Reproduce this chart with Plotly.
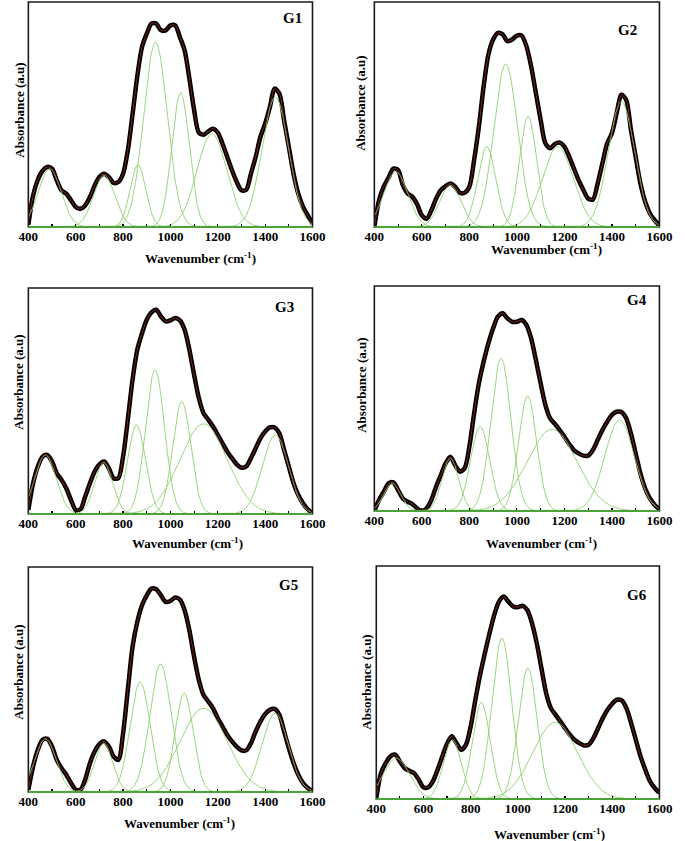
import numpy as np
import plotly.graph_objects as go

W, H = 685, 841

# ---------------- data ----------------
wavenumber = list(range(400, 1601, 20))
x_ticks = [400, 600, 800, 1000, 1200, 1400, 1600]
panel_names = ["G1", "G2", "G3", "G4", "G5", "G6"]

g1_absorbance = [0.01, 0.14, 0.21, 0.25, 0.267, 0.259, 0.207, 0.163, 0.148, 0.119, 0.089,
                 0.081, 0.096, 0.133, 0.185, 0.222, 0.237, 0.222, 0.196, 0.200, 0.237,
                 0.34, 0.50, 0.67, 0.80, 0.859, 0.904, 0.904, 0.874, 0.874, 0.896,
                 0.896, 0.844, 0.785, 0.66, 0.52, 0.42, 0.41, 0.425, 0.437, 0.42,
                 0.37, 0.311, 0.252, 0.20, 0.163, 0.165, 0.237, 0.311, 0.40, 0.459,
                 0.533, 0.615, 0.593, 0.474, 0.356, 0.237, 0.148, 0.089, 0.052, 0.015]
g2_absorbance = [0.0, 0.12, 0.18, 0.22, 0.26, 0.253, 0.186, 0.149, 0.134, 0.101, 0.052,
                 0.037, 0.074, 0.126, 0.164, 0.182, 0.193, 0.179, 0.152, 0.152, 0.179,
                 0.298, 0.446, 0.625, 0.766, 0.833, 0.863, 0.856, 0.826, 0.833, 0.851,
                 0.851, 0.804, 0.714, 0.595, 0.476, 0.372, 0.35, 0.369, 0.375, 0.357,
                 0.313, 0.26, 0.208, 0.164, 0.126, 0.122, 0.193, 0.283, 0.372, 0.417,
                 0.506, 0.588, 0.565, 0.432, 0.312, 0.193, 0.112, 0.06, 0.03, 0.007]
g3_absorbance = [0.018, 0.136, 0.21, 0.254, 0.261, 0.232, 0.18, 0.151, 0.114, 0.062, 0.018,
                 0.021, 0.077, 0.136, 0.188, 0.22, 0.232, 0.202, 0.158, 0.158, 0.254,
                 0.417, 0.594, 0.727, 0.80, 0.86, 0.892, 0.904, 0.874, 0.852, 0.857,
                 0.867, 0.857, 0.815, 0.727, 0.616, 0.513, 0.446, 0.417, 0.387, 0.35,
                 0.313, 0.276, 0.247, 0.22, 0.205, 0.21, 0.247, 0.291, 0.335, 0.365,
                 0.383, 0.383, 0.357, 0.284, 0.21, 0.136, 0.084, 0.047, 0.021, 0.003]
g4_absorbance = [0.0, 0.05, 0.086, 0.123, 0.127, 0.093, 0.056, 0.041, 0.031, 0.012, 0.0,
                 0.012, 0.049, 0.108, 0.16, 0.212, 0.241, 0.204, 0.175, 0.19, 0.286,
                 0.434, 0.567, 0.664, 0.745, 0.812, 0.864, 0.879, 0.856, 0.841, 0.841,
                 0.849, 0.827, 0.767, 0.671, 0.567, 0.471, 0.412, 0.387, 0.36, 0.33,
                 0.298, 0.271, 0.256, 0.246, 0.246, 0.271, 0.316, 0.36, 0.397, 0.427,
                 0.441, 0.44, 0.412, 0.345, 0.256, 0.167, 0.10, 0.056, 0.027, 0.007]
g5_absorbance = [0.01, 0.114, 0.188, 0.232, 0.236, 0.202, 0.143, 0.106, 0.077, 0.04, 0.01,
                 0.01, 0.055, 0.128, 0.18, 0.213, 0.225, 0.202, 0.158, 0.143, 0.261,
                 0.453, 0.645, 0.756, 0.83, 0.874, 0.904, 0.901, 0.874, 0.845, 0.849,
                 0.864, 0.855, 0.808, 0.719, 0.601, 0.498, 0.431, 0.402, 0.372, 0.328,
                 0.291, 0.254, 0.225, 0.202, 0.185, 0.185, 0.217, 0.269, 0.313, 0.346,
                 0.365, 0.369, 0.343, 0.269, 0.195, 0.129, 0.077, 0.04, 0.018, 0.003]
g6_absorbance = [0.004, 0.111, 0.154, 0.183, 0.19, 0.161, 0.133, 0.121, 0.111, 0.083, 0.05,
                 0.05, 0.076, 0.126, 0.183, 0.237, 0.269, 0.24, 0.211, 0.233, 0.311,
                 0.426, 0.533, 0.626, 0.711, 0.79, 0.847, 0.869, 0.847, 0.826, 0.823,
                 0.829, 0.811, 0.754, 0.669, 0.561, 0.454, 0.39, 0.361, 0.333, 0.304,
                 0.276, 0.254, 0.24, 0.23, 0.233, 0.261, 0.304, 0.347, 0.383, 0.409,
                 0.426, 0.423, 0.39, 0.326, 0.254, 0.183, 0.126, 0.076, 0.047, 0.026]

# Gaussian component parameters (band centre, height, sigma)
g1_centers = [490, 720, 863, 937, 1043, 1175, 1443]
g1_heights = [0.259, 0.23, 0.277, 0.822, 0.596, 0.415, 0.578]
g1_sigmas = [48, 45, 33, 50, 37, 63, 56]

g2_centers = [490, 720, 873, 953, 1047, 1172, 1440]
g2_heights = [0.246, 0.186, 0.357, 0.725, 0.491, 0.357, 0.558]
g2_sigmas = [50, 45, 38, 50, 36, 65, 55]

g3_centers = [472, 718, 857, 935, 1048, 1140, 1443]
g3_heights = [0.261, 0.227, 0.394, 0.638, 0.498, 0.399, 0.35]
g3_sigmas = [45, 38, 38, 40, 38, 100, 55]

g4_centers = [475, 720, 845, 933, 1045, 1148, 1432]
g4_heights = [0.123, 0.234, 0.375, 0.679, 0.511, 0.363, 0.404]
g4_sigmas = [35, 35, 40, 42, 38, 105, 62]

g5_centers = [472, 718, 872, 958, 1058, 1140, 1442]
g5_heights = [0.236, 0.217, 0.49, 0.569, 0.439, 0.372, 0.35]
g5_sigmas = [45, 38, 42, 45, 38, 100, 55]

g6_centers = [485, 722, 845, 932, 1042, 1158]
g6_heights = [0.176, 0.254, 0.414, 0.69, 0.561, 0.329]
g6_sigmas = [55, 38, 38, 42, 40, 95]

absorbances = [g1_absorbance, g2_absorbance, g3_absorbance, g4_absorbance, g5_absorbance, g6_absorbance]
centers = [g1_centers, g2_centers, g3_centers, g4_centers, g5_centers, g6_centers]
heights = [g1_heights, g2_heights, g3_heights, g4_heights, g5_heights, g6_heights]
sigmas = [g1_sigmas, g2_sigmas, g3_sigmas, g4_sigmas, g5_sigmas, g6_sigmas]

# ---------------- layout (pixel geometry of each panel) ----------------
# box: left, right, top, bottom ; xtitle (cx, cy) ; ytitle (cx, cy) ; label (cx, cy)
geometry = [
    dict(box=(19, 313, 2, 227), xt=(197, 258), yt=(9, 110), lab=(292, 18)),
    dict(box=(377, 672, 2, 227), xt=(555, 249), yt=(363, 103), lab=(639, 30)),
    dict(box=(19, 313, 288, 514), xt=(184, 543), yt=(8, 382), lab=(284, 307)),
    dict(box=(377, 672, 286, 511), xt=(550, 543), yt=(363, 385), lab=(649, 300)),
    dict(box=(19, 313, 567, 792), xt=(175, 823), yt=(8, 672), lab=(288, 585)),
    dict(box=(379, 672, 566, 799), xt=(558, 834), yt=(368, 682), lab=(649, 595)),
]

FONT = "Liberation Serif, Times New Roman, serif"
BLACK = "#000000"
RED = "#c8362a"
GREEN = "#8fd173"
BASE_GREEN = "#4ea23a"


def px(x):
    return x / W


def py(y):
    return 1 - y / H


fig = go.Figure()
xs_fine = np.linspace(400, 1600, 601)
shapes = []
annotations = []

for i in range(6):
    n = i + 1
    xa = "x" if n == 1 else f"x{n}"
    ya = "y" if n == 1 else f"y{n}"
    g = geometry[i]
    l, r, t, b = g["box"]

    # measured spectrum
    fig.add_trace(go.Scatter(x=wavenumber, y=absorbances[i], mode="lines",
                             line=dict(color=BLACK, width=4.5, shape="spline", smoothing=0.8),
                             xaxis=xa, yaxis=ya, showlegend=False, hoverinfo="skip"))
    # Gaussian components
    for c, h, s in zip(centers[i], heights[i], sigmas[i]):
        comp = h * np.exp(-((xs_fine - c) ** 2) / (2 * s ** 2))
        fig.add_trace(go.Scatter(x=xs_fine, y=comp, mode="lines",
                                 line=dict(color=GREEN, width=0.9),
                                 xaxis=xa, yaxis=ya, showlegend=False, hoverinfo="skip"))
    # fitted envelope
    fig.add_trace(go.Scatter(x=wavenumber, y=absorbances[i], mode="lines",
                             line=dict(color=RED, width=0.8, shape="spline", smoothing=0.8),
                             opacity=0.8,
                             xaxis=xa, yaxis=ya, showlegend=False, hoverinfo="skip"))

    axis_common = dict(showgrid=False, zeroline=False, showline=False, fixedrange=True)
    fig.update_layout(**{
        ("xaxis" if n == 1 else f"xaxis{n}"): dict(
            domain=[px(l), px(r)], anchor=ya, range=[400, 1600],
            tickmode="array", tickvals=x_ticks, ticktext=["<b>%d</b>" % v for v in x_ticks],
            ticks="inside", ticklen=3, tickwidth=1.2, tickcolor=BLACK,
            minor=dict(tickvals=list(range(500, 1600, 200)), ticks="inside", ticklen=3,
                       tickwidth=1.2, tickcolor=BLACK),
            tickfont=dict(family=FONT, size=13, color=BLACK),
            **axis_common),
        ("yaxis" if n == 1 else f"yaxis{n}"): dict(
            domain=[py(b), py(t)], anchor=xa, range=[0, 1],
            showticklabels=False, ticks="", **axis_common),
    })

    # frame
    shapes.append(dict(type="rect", xref="paper", yref="paper",
                       x0=px(l), x1=px(r), y0=py(b), y1=py(t),
                       line=dict(color="#1a1a1a", width=1.6), layer="above"))
    shapes.append(dict(type="line", xref="paper", yref="paper",
                       x0=px(l), x1=px(r), y0=py(b), y1=py(b),
                       line=dict(color=BASE_GREEN, width=2), layer="above"))

    # titles and labels
    annotations.append(dict(text="<b>Wavenumber (cm<sup>-1</sup>)</b>", xref="paper", yref="paper",
                            x=px(g["xt"][0]), y=py(g["xt"][1]), xanchor="center", yanchor="middle",
                            showarrow=False, font=dict(family=FONT, size=13, color=BLACK)))
    annotations.append(dict(text="<b>Absorbance (a.u)</b>", xref="paper", yref="paper",
                            x=px(g["yt"][0]), y=py(g["yt"][1]), xanchor="center", yanchor="middle",
                            textangle=-90, showarrow=False,
                            font=dict(family=FONT, size=13, color=BLACK)))
    annotations.append(dict(text="<b>" + panel_names[i] + "</b>", xref="paper", yref="paper",
                            x=px(g["lab"][0]), y=py(g["lab"][1]), xanchor="center", yanchor="middle",
                            showarrow=False, font=dict(family=FONT, size=15, color=BLACK)))

fig.update_layout(width=W, height=H, autosize=False, margin=dict(l=0, r=0, t=0, b=0),
                  paper_bgcolor="white", plot_bgcolor="white",
                  shapes=shapes, annotations=annotations, showlegend=False)

fig.write_html("out.html",
               config={"responsive": False, "displayModeBar": False, "staticPlot": True},
               post_script="document.body.style.margin='0';")
